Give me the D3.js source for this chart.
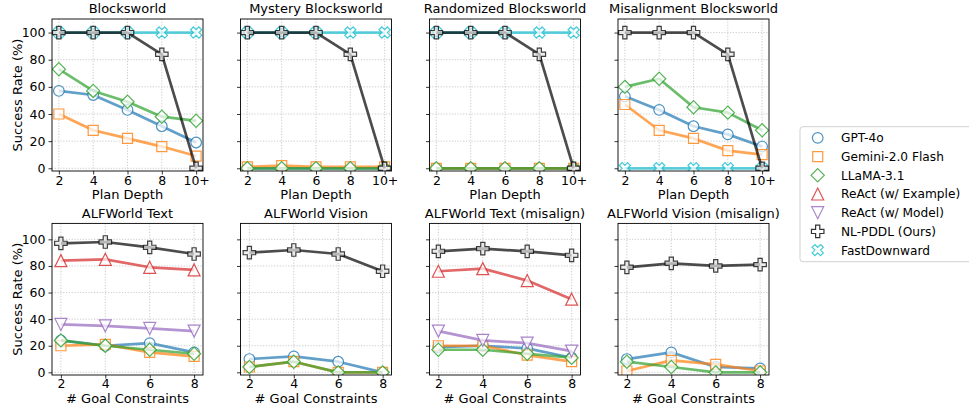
<!DOCTYPE html>
<html><head><meta charset="utf-8">
<script src="https://cdn.jsdelivr.net/npm/d3@7"></script>
<style>body{margin:0;background:#fff} text{font-family:"DejaVu Sans",sans-serif;fill:#000}</style>
</head><body><svg id="c" width="969" height="408"></svg>
<script>
// ---------- data ----------
const planDepths = ["2","4","6","8","10+"];
const goalConstraints = ["2","4","6","8"];
const yTicks = [0,20,40,60,80,100];
const seriesNames = ["GPT-4o","Gemini-2.0 Flash","LLaMA-3.1","ReAct (w/ Example)","ReAct (w/ Model)","NL-PDDL (Ours)","FastDownward"];
const seriesColors = ["#1f77b4","#ff7f0e","#2ca02c","#d62728","#9467bd","#000000","#17becf"];
const seriesMarkers = ["circle","square","diamond","triUp","triDown","plus","xfill"];
const topTitles = ["Blocksworld","Mystery Blocksworld","Randomized Blocksworld","Misalignment Blocksworld"];
const bottomTitles = ["ALFWorld Text","ALFWorld Vision","ALFWorld Text (misalign)","ALFWorld Vision (misalign)"];

// Blocksworld
const bwGPT = [57,54,43,31,19];
const bwGemini = [40,28,22,16,9];
const bwLLaMA = [73,57,49,38,35];
const bwNLPDDL = [100,100,100,84,0];
const bwFD = [100,100,100,100,100];
// Mystery Blocksworld
const myGPT = [0,0,0,0,0];
const myGemini = [1,2,1,1,1];
const myLLaMA = [0,0,0,0,0];
const myNLPDDL = [100,100,100,84,0];
const myFD = [100,100,100,100,100];
// Randomized Blocksworld
const rbGPT = [0,0,0,0,0];
const rbGemini = [0,0,0,0,0];
const rbLLaMA = [0,0,0,0,0];
const rbNLPDDL = [100,100,100,84,0];
const rbFD = [100,100,100,100,100];
// Misalignment Blocksworld
const maGPT = [53,43,31,25,16];
const maGemini = [47,28,22,13,10];
const maLLaMA = [60,66,45,41,28];
const maNLPDDL = [100,100,100,84,0];
const maFD = [0,0,0,0,0];
// ALFWorld Text
const atGPT = [24,20,22,15];
const atGemini = [20,21,15,12];
const atLLaMA = [24,20,17,14];
const atReActEx = [84,85,79,77];
const atReActModel = [36,35,33,31];
const atNLPDDL = [97,98,94,89];
// ALFWorld Vision
const avGPT = [10,12,8,0];
const avGemini = [4,8,0,0];
const avLLaMA = [4,8,0,0];
const avNLPDDL = [90,92,89,76];
// ALFWorld Text (misalign)
const amGPT = [19,20,18,11];
const amGemini = [20,20,13,8];
const amLLaMA = [17,17,14,11];
const amReActEx = [76,78,69,55];
const amReActModel = [31,24,22,16];
const amNLPDDL = [91,93,91,88];
// ALFWorld Vision (misalign)
const vmGPT = [10,15,4,3];
const vmGemini = [1,9,6,1];
const vmLLaMA = [8,4,0,0];
const vmNLPDDL = [79,82,80,81];

// ---------- panels built from arrays ----------
const panels = [
  {row:0,col:0,title:topTitles[0],cats:planDepths,series:[[0,bwGPT],[1,bwGemini],[2,bwLLaMA],[6,bwFD],[5,bwNLPDDL]]},
  {row:0,col:1,title:topTitles[1],cats:planDepths,series:[[0,myGPT],[1,myGemini],[2,myLLaMA],[6,myFD],[5,myNLPDDL]]},
  {row:0,col:2,title:topTitles[2],cats:planDepths,series:[[0,rbGPT],[1,rbGemini],[2,rbLLaMA],[6,rbFD],[5,rbNLPDDL]]},
  {row:0,col:3,title:topTitles[3],cats:planDepths,series:[[0,maGPT],[1,maGemini],[2,maLLaMA],[6,maFD],[5,maNLPDDL]]},
  {row:1,col:0,title:bottomTitles[0],cats:goalConstraints,series:[[0,atGPT],[1,atGemini],[2,atLLaMA],[3,atReActEx],[4,atReActModel],[5,atNLPDDL]]},
  {row:1,col:1,title:bottomTitles[1],cats:goalConstraints,series:[[0,avGPT],[1,avGemini],[2,avLLaMA],[5,avNLPDDL]]},
  {row:1,col:2,title:bottomTitles[2],cats:goalConstraints,series:[[0,amGPT],[1,amGemini],[2,amLLaMA],[3,amReActEx],[4,amReActModel],[5,amNLPDDL]]},
  {row:1,col:3,title:bottomTitles[3],cats:goalConstraints,series:[[0,vmGPT],[1,vmGemini],[2,vmLLaMA],[5,vmNLPDDL]]}
];

// ---------- layout ----------
const colLefts = [52, 240.5, 429.5, 618];
const plotW = 151;
const rowGeom = [
  {top:19, bottom:171, domain:[-2,110], titleY:12.7, tickY:185.3, labelY:198.8, xlabel:"Plan Depth"},
  {top:223.4, bottom:375, domain:[-2,112], titleY:217.7, tickY:388, labelY:403.3, xlabel:"# Goal Constraints"}
];

function markerPath(type){
  const p = d3.path();
  if(type==="circle"){ const r=5.3; p.arc(0,0,r,0,2*Math.PI); p.closePath(); }
  else if(type==="square"){ const h=5; p.rect(-h,-h,2*h,2*h); }
  else if(type==="diamond"){ const h=6.6; p.moveTo(0,-h);p.lineTo(h,0);p.lineTo(0,h);p.lineTo(-h,0);p.closePath(); }
  else if(type==="triUp"){ const r=6; p.moveTo(0,-r);p.lineTo(r,r);p.lineTo(-r,r);p.closePath(); }
  else if(type==="triDown"){ const r=6; p.moveTo(0,r);p.lineTo(r,-r);p.lineTo(-r,-r);p.closePath(); }
  else if(type==="plus"||type==="xfill"){
    const u = 12.5/6;
    let pts=[[-1,-3],[1,-3],[1,-1],[3,-1],[3,1],[1,1],[1,3],[-1,3],[-1,1],[-3,1],[-3,-1],[-1,-1]];
    if(type==="xfill"){ const c=Math.SQRT1_2; pts = pts.map(([x,y])=>[(x-y)*c*0.95,(x+y)*c*0.95]); }
    pts.forEach(([x,y],i)=> i?p.lineTo(x*u,y*u):p.moveTo(x*u,y*u)); p.closePath();
  }
  return p.toString();
}

const svg = d3.select("#c");

panels.forEach((pn,pi)=>{
  const g = rowGeom[pn.row];
  const left = colLefts[pn.col];
  const n = pn.cats.length;
  const x = d3.scalePoint().domain(pn.cats).range([left + plotW*0.2/(n-1+0.4), left + plotW - plotW*0.2/(n-1+0.4)]);
  const y = d3.scaleLinear().domain(g.domain).range([g.bottom, g.top]);
  const root = svg.append("g");

  // grid
  const grid = root.append("g").attr("stroke","#b0b0b0").attr("stroke-width",0.8).attr("stroke-dasharray","1.2,1.6").attr("opacity",0.8);
  pn.cats.forEach(c=> grid.append("line").attr("x1",x(c)).attr("x2",x(c)).attr("y1",g.top).attr("y2",g.bottom));
  yTicks.forEach(t=> grid.append("line").attr("x1",left).attr("x2",left+plotW).attr("y1",y(t)).attr("y2",y(t)));

  // clip
  const cid = "clip"+pi;
  root.append("clipPath").attr("id",cid).append("rect").attr("x",left).attr("y",g.top).attr("width",plotW).attr("height",g.bottom-g.top);
  const plot = root.append("g").attr("clip-path",`url(#${cid})`);

  const line = d3.line().x((d,i)=>x(pn.cats[i])).y(d=>y(d));
  pn.series.forEach(([si,vals])=>{
    const col = seriesColors[si];
    const sg = plot.append("g");
    sg.append("path").attr("d",line(vals)).attr("fill","none").attr("stroke",col)
      .attr("stroke-width",2.7).attr("stroke-opacity",0.7).attr("stroke-linejoin","round");
    sg.selectAll("path.m").data(vals).join("path").attr("class","m")
      .attr("transform",(d,i)=>`translate(${x(pn.cats[i])},${y(d)})`)
      .attr("d",markerPath(seriesMarkers[si]))
      .attr("fill",si===5?"#e6e6e6":"#ffffff").attr("fill-opacity",0.7)
      .attr("stroke",col).attr("stroke-opacity",si===5?0.75:0.8).attr("stroke-width",1.2);
  });

  // axes (d3 axes)
  const xAxis = d3.axisBottom(x).tickSize(3.5).tickPadding(2);
  const xa = root.append("g").attr("transform",`translate(0,${g.bottom})`).call(xAxis);
  xa.select(".domain").remove();
  xa.selectAll("text").attr("font-size",12.5).attr("font-family","DejaVu Sans").attr("dy",null)
    .attr("y", g.tickY - g.bottom);
  xa.selectAll("line").attr("stroke","#000").attr("stroke-width",0.8);

  const yAxis = d3.axisLeft(y).tickValues(yTicks).tickSize(3.5).tickPadding(3);
  const ya = root.append("g").attr("transform",`translate(${left},0)`).call(yAxis);
  ya.select(".domain").remove();
  ya.selectAll("line").attr("stroke","#000").attr("stroke-width",0.8);
  ya.selectAll("text").attr("font-size",12.5).attr("font-family","DejaVu Sans");
  if(pn.col!==0) ya.selectAll("text").remove();

  // frame
  root.append("rect").attr("x",left).attr("y",g.top).attr("width",plotW).attr("height",g.bottom-g.top)
    .attr("fill","none").attr("stroke","#000").attr("stroke-width",0.9);

  // title and axis label
  root.append("text").attr("x",left+plotW/2).attr("y",g.titleY).attr("text-anchor","middle").attr("font-size",13).text(pn.title);
  root.append("text").attr("x",left+plotW/2).attr("y",g.labelY).attr("text-anchor","middle").attr("font-size",13).text(g.xlabel);
  if(pn.col===0){
    root.append("text").attr("transform",`translate(22,${(g.top+g.bottom)/2}) rotate(-90)`)
      .attr("text-anchor","middle").attr("font-size",13).text("Success Rate (%)");
  }
});

// legend
const lg = svg.append("g");
lg.append("rect").attr("x",800).attr("y",126.7).attr("width",180).attr("height",135).attr("rx",3)
  .attr("fill","#fff").attr("fill-opacity",0.8).attr("stroke","#cccccc").attr("stroke-width",0.9);
seriesNames.forEach((name,i)=>{
  const cy = 137.9 + i*18.7;
  lg.append("path").attr("transform",`translate(817.7,${cy})`).attr("d",markerPath(seriesMarkers[i]))
    .attr("fill","#fff").attr("stroke",seriesColors[i]).attr("stroke-opacity",0.8).attr("stroke-width",1.2);
  lg.append("text").attr("x",841).attr("y",cy+4.4).attr("font-size",12.2).text(name);
});
</script></body></html>
